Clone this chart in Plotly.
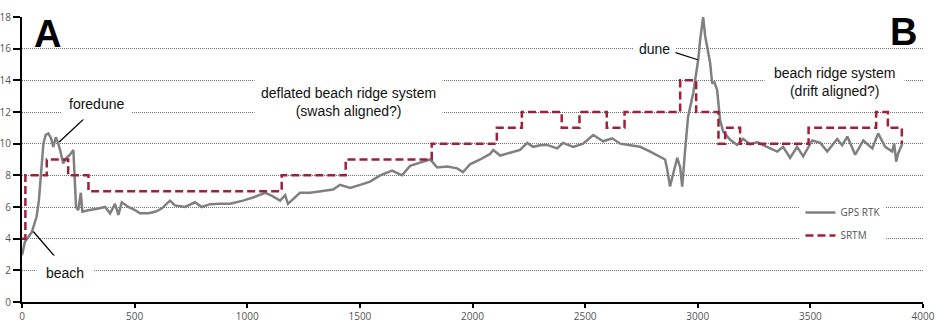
import plotly.graph_objects as go

# ---- data ----
gps_dist = [0, 13, 43, 65, 75, 87, 95, 105, 117, 129,
            139, 150, 159, 169, 183, 198, 213, 228, 232, 240,
            250, 261, 268, 294, 339, 369, 391, 413, 428, 443,
            472, 502, 524, 561, 591, 620, 657, 679, 724, 768,
            798, 835, 879, 924, 981, 1026, 1079, 1110, 1146, 1168,
            1181, 1234, 1279, 1323, 1381, 1412, 1457, 1501, 1545, 1590,
            1643, 1687, 1723, 1767, 1812, 1843, 1887, 1932, 1958, 1989,
            2034, 2078, 2092, 2123, 2167, 2211, 2243, 2269, 2300, 2331,
            2376, 2402, 2447, 2491, 2536, 2580, 2620, 2656, 2700, 2744,
            2789, 2833, 2855, 2864, 2877, 2891, 2909, 2922, 2931, 2944,
            2957, 2980, 3002, 3011, 3024, 3033, 3042, 3055, 3064, 3073,
            3086, 3099, 3113, 3144, 3175, 3202, 3233, 3264, 3290, 3322,
            3353, 3379, 3410, 3441, 3468, 3508, 3544, 3575, 3619, 3641,
            3664, 3699, 3735, 3775, 3801, 3832, 3863, 3872, 3881, 3890,
            3908]
gps_elev = [2.95, 3.8, 4.4, 5.4, 6.4, 8.5, 10.0, 10.55, 10.65, 10.35,
            9.8, 10.4, 10.1, 9.6, 8.75, 9.1, 9.3, 9.6, 8.5, 6.0,
            5.8, 6.9, 5.7, 5.8, 5.9, 6.0, 5.6, 6.2, 5.5, 6.3,
            6.0, 5.8, 5.6, 5.6, 5.7, 5.9, 6.4, 6.1, 6.0, 6.3,
            6.0, 6.18, 6.2, 6.2, 6.4, 6.6, 6.9, 6.7, 6.4, 6.75,
            6.2, 6.9, 6.9, 7.0, 7.1, 7.4, 7.2, 7.4, 7.6, 8.0,
            8.3, 8.0, 8.6, 8.8, 9.0, 8.5, 8.55, 8.44, 8.2, 8.7,
            9.0, 9.35, 9.6, 9.25, 9.45, 9.6, 10.05, 9.8, 9.9, 9.92,
            9.7, 10.05, 9.8, 10.0, 10.55, 10.15, 10.34, 10.0, 9.9, 9.8,
            9.5, 9.18, 9.0, 8.4, 7.3, 8.1, 9.1, 8.5, 7.28, 9.6,
            11.7, 13.2, 15.3, 16.6, 18.0, 16.8, 16.1, 15.1, 13.8, 13.9,
            13.4, 11.5, 10.76, 10.24, 9.92, 10.3, 9.95, 10.1, 9.9, 9.7,
            9.5, 9.8, 9.1, 9.8, 9.2, 10.2, 10.05, 9.5, 10.3, 9.9,
            10.45, 9.3, 10.2, 9.7, 10.65, 9.8, 9.5, 10.0, 8.86, 9.4,
            10.0]

srtm_dist = [0, 15, 110, 205, 295, 1153, 1437, 1819, 2108, 2219, 2396, 2475,
             2596, 2675, 2922, 2993, 3092, 3122, 3188, 3492, 3792, 3844, 3906]
srtm_elev = [4, 8, 9, 8, 7, 8, 9, 10, 11, 12, 11, 12,
             11, 12, 14, 12, 10, 11, 10, 11, 12, 11, 10]

x_ticks = [0, 500, 1000, 1500, 2000, 2500, 3000, 3500, 4000]
y_ticks = [0, 2, 4, 6, 8, 10, 12, 14, 16, 18]

series_names = ["GPS RTK", "SRTM"]

TXT = "Liberation Sans, Arial, sans-serif"
TICKF = "Open Sans, Liberation Sans, sans-serif"

fig = go.Figure()
fig.add_trace(go.Scatter(x=gps_dist, y=gps_elev, mode="lines", name=series_names[0],
                         line=dict(color="#808080", width=2.5), legendgroup="a"))
fig.add_trace(go.Scatter(x=srtm_dist, y=srtm_elev, mode="lines", name=series_names[1],
                         line=dict(color="#A0203C", width=2.5, dash="8px,4px", shape="hv"),
                         legendgroup="b"))

ann_font = dict(family=TXT, size=14, color="#111111")
annotations = [
    dict(x=111, y=16.9, text="<b>A</b>", font=dict(family=TXT, size=38, color="#000"), showarrow=False),
    dict(x=3912, y=17.05, text="<b>B</b>", font=dict(family=TXT, size=38, color="#000"), showarrow=False),
    dict(x=330, y=12.5, text="foredune", font=ann_font, showarrow=False, bgcolor="white", borderpad=7),
    dict(x=191, y=1.85, text="beach", font=ann_font, showarrow=False, bgcolor="white", borderpad=9),
    dict(x=1448, y=12.65, text="deflated beach ridge system<br>(swash aligned?)", font=ann_font,
         showarrow=False, bgcolor="white", borderpad=6),
    dict(x=2809, y=15.95, text="dune", font=ann_font, showarrow=False, bgcolor="white", borderpad=5),
    dict(x=3606, y=13.9, text="beach ridge system<br>(drift aligned?)", font=ann_font,
         showarrow=False, bgcolor="white", borderpad=9),
]

shapes = [
    dict(type="line", x0=302, y0=11.93, x1=165, y1=10.1, line=dict(color="#000", width=1.3)),
    dict(type="line", x0=160, y0=2.64, x1=50, y1=4.45, line=dict(color="#000", width=1.3)),
    dict(type="line", x0=2891, y0=15.8, x1=3000, y1=15.3, line=dict(color="#000", width=1.3)),
]

fig.update_layout(
    width=950, height=329,
    margin=dict(l=22, r=27, t=17, b=27),
    paper_bgcolor="white", plot_bgcolor="white",
    annotations=annotations, shapes=shapes,
    showlegend=True,
    legend=dict(x=0.864, y=0.365, xanchor="left", yanchor="top", bgcolor="white",
                font=dict(family=TICKF, size=10, color="#555555"),
                tracegroupgap=4, traceorder="grouped", itemwidth=30),
    xaxis=dict(range=[0, 4000], tickvals=x_ticks, showgrid=False, zeroline=False,
               showline=True, linecolor="#000", linewidth=2,
               ticks="outside", ticklen=4, tickwidth=2, tickcolor="#000",
               tickfont=dict(family=TICKF, size=10, color="#555555"), automargin=False),
    yaxis=dict(range=[0, 18], tickvals=y_ticks, showgrid=True, gridcolor="#707070",
               griddash="1px,1px", gridwidth=1, zeroline=False,
               showline=True, linecolor="#000", linewidth=2,
               ticks="outside", ticklen=7, tickwidth=1.5, tickcolor="#000",
               tickfont=dict(family=TICKF, size=10, color="#555555"), automargin=False),
)

fig.write_html("out.html", config={"displayModeBar": False},
               post_script="document.body.style.margin='0px';")
